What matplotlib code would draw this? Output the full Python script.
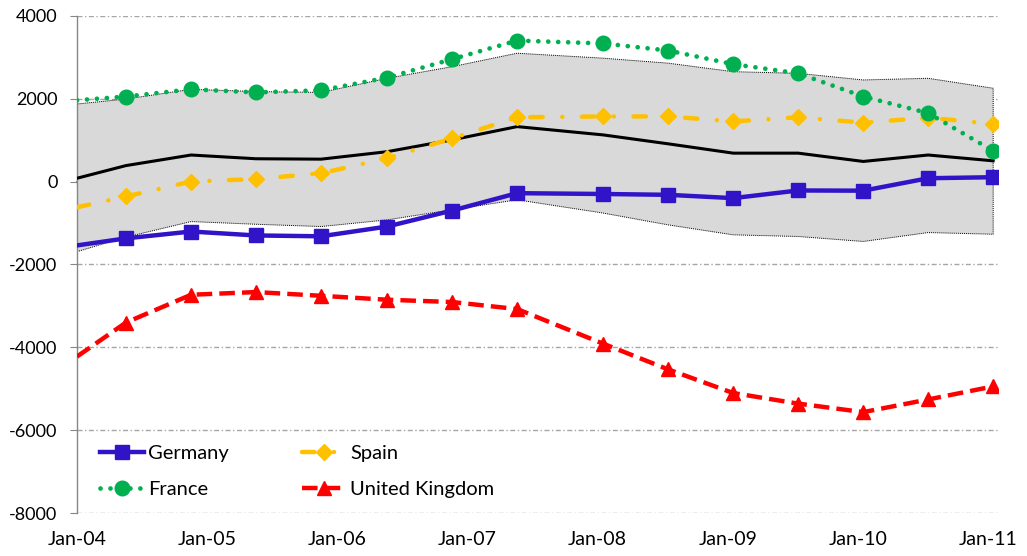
import matplotlib
matplotlib.use("Agg")
import matplotlib.pyplot as plt

plt.rcParams['font.family'] = ['Lato', 'DejaVu Sans']

# dates as fractional years (first point sits on the axis)
dates = [2004.0, 2004.376, 2004.876, 2005.375, 2005.875, 2006.382, 2006.881, 2007.381,
         2008.042, 2008.541, 2009.041, 2009.540, 2010.040, 2010.539, 2011.038]

germany = [-1540, -1370, -1205, -1300, -1320, -1085, -700, -280,
           -300, -320, -400, -215, -220, 80, 105]
spain = [-620, -360, 0, 60, 200, 560, 1040, 1550,
         1570, 1570, 1450, 1550, 1420, 1540, 1390]
france = [1960, 2050, 2225, 2150, 2200, 2505, 2950, 3400,
          3330, 3160, 2830, 2610, 2050, 1650, 740]
uk = [-4220, -3400, -2730, -2665, -2755, -2850, -2905, -3075,
      -3910, -4530, -5100, -5355, -5560, -5255, -4940]

mean = [80, 385, 640, 550, 540, 720, 1005, 1325,
        1125, 910, 685, 685, 485, 640, 500]
band_upper = [1870, 1990, 2225, 2170, 2150, 2490, 2770, 3095,
              2975, 2855, 2650, 2610, 2450, 2490, 2250]
band_lower = [-1690, -1340, -965, -1030, -1085, -925, -680, -440,
              -760, -1045, -1285, -1325, -1445, -1230, -1270]

years = [2004, 2005, 2006, 2007, 2008, 2009, 2010, 2011]
year_labels = ["Jan-04", "Jan-05", "Jan-06", "Jan-07", "Jan-08", "Jan-09", "Jan-10", "Jan-11"]
y_ticks = [-8000, -6000, -4000, -2000, 0, 2000, 4000]

fig = plt.figure(figsize=(10.27, 5.56), dpi=100)
ax = fig.add_axes([0.075, 0.0768, 0.897, 0.895])

# grey band between min and max
ax.fill_between(dates, band_lower, band_upper, facecolor="#d9d9d9", edgecolor="black",
                linestyle=(0, (1, 1)), linewidth=0.7, zorder=1)
ax.plot(dates, mean, color="black", linewidth=2.2, zorder=3)

l_de, = ax.plot(dates, germany, color="#3214c8", linewidth=3.2, marker="s", markersize=9.5,
                markevery=slice(1, None), label="Germany", zorder=5)
l_es, = ax.plot(dates, spain, color="#ffc000", linewidth=3.2, linestyle=(0, (2.8, 4.4, 0.01, 4.4)),
                dash_capstyle="round", marker="D", markersize=8.5, markevery=slice(1, None),
                label="Spain", zorder=4)
l_fr, = ax.plot(dates, france, color="#00b050", linewidth=3.4, linestyle=(0, (0.01, 2.1)),
                dash_capstyle="round", marker="o", markersize=10.5, markevery=slice(1, None),
                label="France", zorder=4)
l_uk, = ax.plot(dates, uk, color="#ff0000", linewidth=3.2, linestyle=(0, (3.5, 1.6)),
                marker="^", markersize=10, markevery=slice(1, None), label="United Kingdom",
                zorder=4)

ax.set_xlim(2004.0, 2011.077)
ax.set_ylim(-8000, 4000)

# gridlines (skip 0, the axis line sits there)
for v in y_ticks:
    if v != 0:
        ax.axhline(v, color="#a6a6a6", linewidth=1.0, linestyle=(0, (3.6, 1.8, 1, 1.8)), zorder=0)

for s in ["top", "right", "bottom"]:
    ax.spines[s].set_visible(False)
ax.spines["left"].set_color("#868686")
ax.spines["left"].set_linewidth(1.0)

ax.set_yticks(y_ticks)
ax.set_yticklabels([str(v) for v in y_ticks])
ax.tick_params(axis="y", direction="out", length=5, color="#868686", pad=9, labelsize=13)

ax.set_xticks(years)
ax.set_xticklabels(year_labels)
ax.tick_params(axis="x", length=0, pad=13, labelsize=14)

# horizontal axis line at zero with its tick marks
zero = ax.secondary_xaxis(2 / 3)
zero.set_xticks(years)
zero.set_xticklabels([])
zero.tick_params(direction="inout", length=10, color="#868686")
zero.spines["bottom"].set_color("#868686")
zero.spines["bottom"].set_linewidth(1.5)
zero.spines["top"].set_color("#868686")
zero.spines["top"].set_linewidth(1.5)

# column-major order so rows read Germany/Spain, France/United Kingdom
ax.legend([l_de, l_fr, l_es, l_uk], ["Germany", "France", "Spain", "United Kingdom"],
          loc="upper left", bbox_to_anchor=(0.025, 0.138), ncol=2, frameon=False,
          fontsize=14.5, handlelength=2.2, columnspacing=3.6, labelspacing=0.95,
          handletextpad=0.2, borderpad=0, borderaxespad=0)

plt.savefig("out.png", dpi=100)
